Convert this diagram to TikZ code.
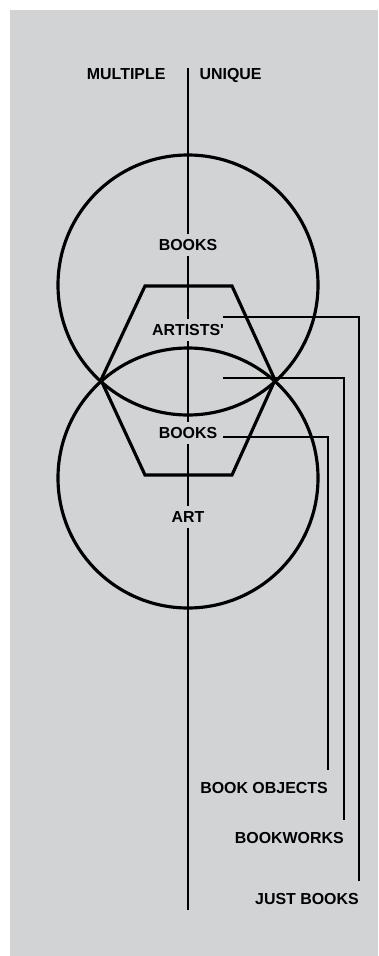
\documentclass[tikz,border=0pt]{standalone}
\usepackage{fontspec}
\setmainfont{Liberation Sans}
\usepackage{xcolor}
\usepackage{tikz}
\definecolor{ink}{HTML}{000000}
\definecolor{paper}{HTML}{D2D3D5}
\tikzset{
  ring/.style={draw=ink, line width=2.7pt},
  spine/.style={draw=ink, line width=1.7pt},
  lead/.style={draw=ink, line width=1.6pt},
  word/.style={inner xsep=2pt, inner ysep=4.6pt, text height=9.6pt, text depth=0pt,
    font=\fontsize{13.6}{15}\selectfont\bfseries, text=ink, fill=paper},
  tag/.style={word, fill=none, inner xsep=0pt, inner ysep=10pt},
}
\begin{document}
\begin{tikzpicture}[x=0.03cm, y=-0.03cm]
  \useasboundingbox (0,0) rectangle (378,956);
  \fill[paper] (10,10) rectangle (378,956);

  % axis between the two kinds
  \coordinate (top) at (188,68);
  \coordinate (bottom) at (188,910);
  \draw[spine] (top) -- (bottom);
  \node[word, fill=none, anchor=east] (multiple) at (168,74) {MULTIPLE};
  \node[word, fill=none, anchor=west] (unique) at (197,74) {UNIQUE};

  % two overlapping sets and the hexagon through their crossings
  \draw[ring] (188,285) circle (130);
  \draw[ring] (188,478) circle (130);
  \draw[ring] (145,286) -- (232,286) -- (275,380) -- (232,475) -- (145,475) -- (101,380) -- cycle;

  \node[word] (books) at (188,245) {BOOKS};
  \node[word] (artists) at (188,330) {ARTISTS\textquotesingle};
  \node[word] (books2) at (188,433) {BOOKS};
  \node[word] (art) at (188,517) {ART};

  % leaders to the names on the right
  \coordinate (s1) at (223,317);
  \coordinate (s2) at (223,378);
  \coordinate (s3) at (223,437);
  \node[tag, anchor=east] (objects) at (328,788) {BOOK OBJECTS};
  \node[tag, anchor=east] (bookworks) at (344,838) {BOOKWORKS};
  \node[tag, anchor=east] (just) at (359,899) {JUST BOOKS};
  \draw[lead] (s1) -| (just.north east);
  \draw[lead] (s2) -| (bookworks.north east);
  \draw[lead] (s3) -| (objects.north east);
\end{tikzpicture}
\end{document}
